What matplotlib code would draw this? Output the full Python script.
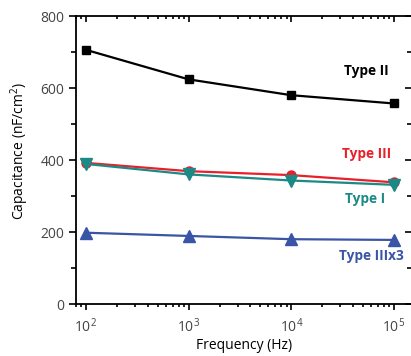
import matplotlib
matplotlib.use("Agg")
import matplotlib.pyplot as plt
from matplotlib.ticker import LogLocator, FixedLocator, NullFormatter

plt.rcParams['font.family'] = ['Open Sans', 'DejaVu Sans']
plt.rcParams['mathtext.fontset'] = 'custom'
plt.rcParams['mathtext.rm'] = 'Open Sans'
plt.rcParams['mathtext.it'] = 'Open Sans:italic'
plt.rcParams['mathtext.bf'] = 'Open Sans:bold'

freq = [1e2, 1e3, 1e4, 1e5]
type_ii = [706, 624, 580, 557]
type_iii = [392, 369, 358, 338]
type_i = [389, 360, 343, 331]
type_iiix3 = [198, 189, 180, 178]

labels = ['Type II', 'Type III', 'Type I', 'Type IIIx3']
label_pos = [(5.4e4, 647), (5.4e4, 416), (5.2e4, 291), (6.0e4, 134)]

c_black = '#000000'
c_red = '#e8202a'
c_teal = '#1b8a86'
c_blue = '#3a55a6'

fig = plt.figure(figsize=(4.11, 3.56), dpi=100)
ax = fig.add_axes([76/411, 1 - 304/356, (412 - 76)/411, (304 - 16)/356])

ax.plot(freq, type_ii, color=c_black, lw=1.6, marker='s', ms=6, zorder=3)
ax.plot(freq, type_iii, color=c_red, lw=1.6, marker='o', ms=6.5, zorder=3)
ax.plot(freq, type_i, color=c_teal, lw=1.6, marker='v', ms=8.5, zorder=4)
ax.plot(freq, type_iiix3, color=c_blue, lw=1.6, marker='^', ms=8.5, zorder=3)

for lab, (x, y), c in zip(labels, label_pos, [c_black, c_red, c_teal, c_blue]):
    ax.text(x, y, lab, color=c, fontsize=9.8, fontweight='bold', ha='center', va='center')

ax.set_xscale('log')
ax.set_xlim(80, 1.5e5)
ax.set_ylim(0, 800)
ax.set_yticks([0, 200, 400, 600, 800])
ax.yaxis.set_minor_locator(FixedLocator([100, 300, 500, 700]))
ax.xaxis.set_major_locator(FixedLocator(freq))
ax.set_xticklabels([r'$10^{2}$', r'$10^{3}$', r'$10^{4}$', r'$10^{5}$'])
ax.xaxis.set_minor_locator(LogLocator(base=10, subs=range(2, 10), numticks=20))
ax.xaxis.set_minor_formatter(NullFormatter())

ax.spines['right'].set_visible(False)
for s in ['left', 'bottom', 'top']:
    ax.spines[s].set_linewidth(1.3)

ax.tick_params(axis='both', which='both', labelsize=10, colors='#000000', labelcolor='#444444')
ax.tick_params(axis='y', which='major', direction='out', length=5, width=1.2, right=True)
ax.tick_params(axis='y', which='minor', direction='out', length=3.5, width=1.2, right=True)
ax.tick_params(axis='x', which='major', direction='out', length=4, width=1.2, top=True, pad=6)
ax.tick_params(axis='x', which='minor', direction='out', length=2.5, width=1.2, top=True)
# top and right ticks point inward
for t in ax.xaxis.get_major_ticks() + ax.xaxis.get_minor_ticks():
    t.tick2line.set_marker(3)
for t in ax.yaxis.get_major_ticks() + ax.yaxis.get_minor_ticks():
    t.tick2line.set_marker(0)

ax.set_xlabel('Frequency (Hz)', fontsize=10, labelpad=1)
ax.set_ylabel('Capacitance (nF/cm$^{2}$)', fontsize=10)
ax.yaxis.set_label_coords(-0.135, 0.53)

fig.savefig('out.png', dpi=100)
